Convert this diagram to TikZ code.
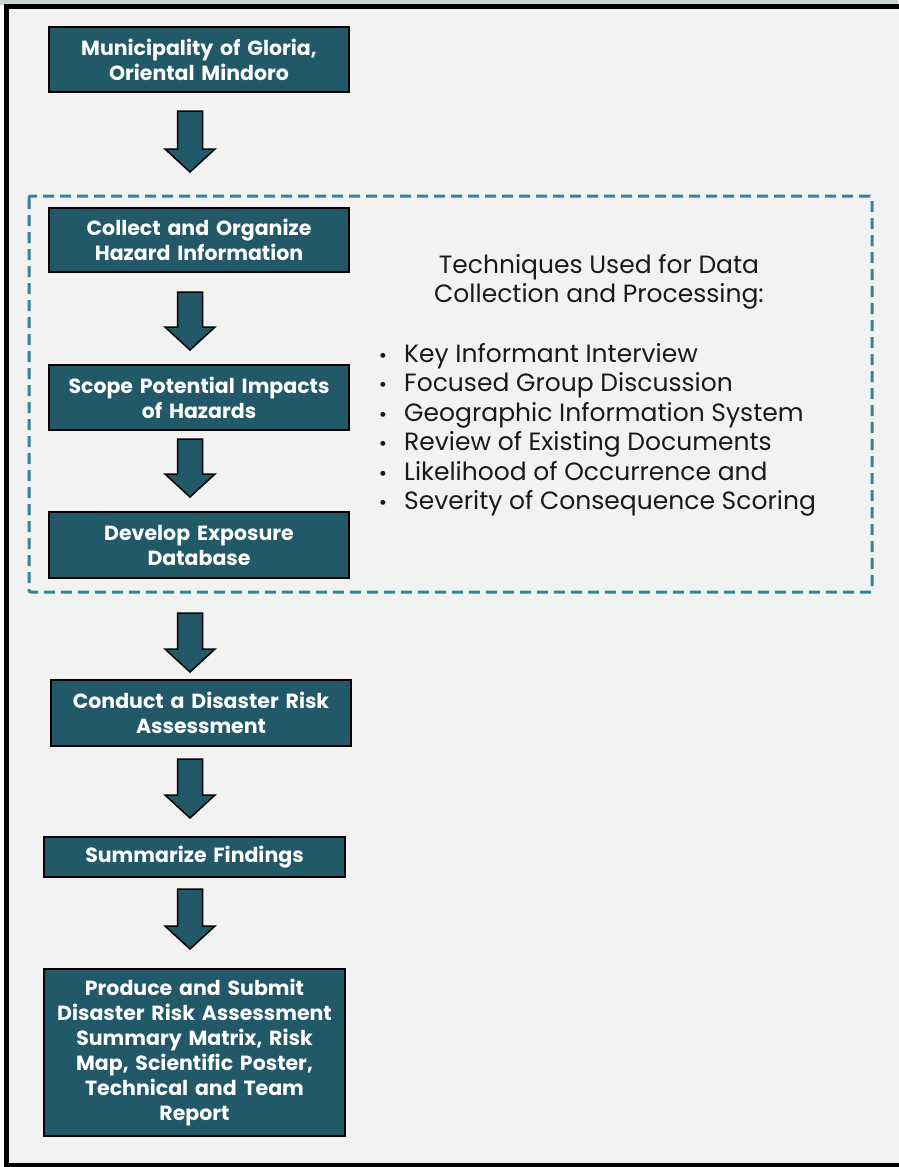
\documentclass[tikz,border=0pt]{standalone}
\usepackage{fontspec}
\setmainfont{Poppins}
\usetikzlibrary{calc}
\definecolor{boxfill}{HTML}{215968}
\definecolor{dashc}{HTML}{31859C}
\definecolor{bg}{HTML}{F2F2F2}
\definecolor{topstrip}{HTML}{C9D3D6}
\tikzset{
  stepbox/.style={draw=black, line width=2pt, fill=boxfill, text=white,
    font=\bfseries\fontsize{20.5}{25}\selectfont, align=center, inner sep=0pt,
    minimum width=300pt, text width=296pt},
  blockarr/.style={draw=black, line width=1.5pt, fill=boxfill, line join=miter},
  listtext/.style={anchor=base west, inner sep=0pt, font=\fontsize{25}{29}\selectfont, text=black!90},
  headtext/.style={anchor=base, inner sep=0pt, font=\fontsize{25}{29}\selectfont, text=black!90},
  bulletmark/.style={anchor=base, inner sep=0pt, font=\fontsize{20}{29}\selectfont, text=black!90},
  dashframe/.style={draw=dashc, line width=3pt, dash pattern=on 11pt off 6pt, rounded corners=2pt}
}
\newcommand\blockarrow[2]{%
  \draw[blockarr] ($(#1)+(-12.5,0)$) -- ($(#1)+(12.5,0)$) -- ($(#2)+(12.5,-23)$)
    -- ($(#2)+(25,-23)$) -- (#2) -- ($(#2)+(-25,-23)$) -- ($(#2)+(-12.5,-23)$) -- cycle;}
\begin{document}
\begin{tikzpicture}[x=1pt,y=-1pt]
\useasboundingbox (0,0) rectangle (898,1167);
\fill[topstrip] (0,0) rectangle (898,5);
\draw[line width=5pt, fill=bg] (6.5,6.5) rectangle (920,1165.5);

% dashed group frame
\draw[dashframe] (29,196) rectangle (872,592);

% boxes
\node[stepbox, minimum height=65pt] (b1) at (199,59.5) {Municipality of Gloria,\\Oriental Mindoro};
\node[stepbox, minimum height=64pt] (b2) at (199,240) {Collect and Organize\\Hazard Information};
\node[stepbox, minimum height=65pt] (b3) at (199,397.5) {Scope Potential Impacts\\of Hazards};
\node[stepbox, minimum height=66pt] (b4) at (199,545) {Develop Exposure\\Database};
\node[stepbox, minimum height=66pt] (b5) at (201,713) {Conduct a Disaster Risk\\Assessment};
\node[stepbox, minimum height=40pt, minimum width=301pt] (b6) at (194.5,857) {Summarize Findings};
\node[stepbox, minimum height=167pt, minimum width=301pt] (b7) at (194.5,1052.5) {Produce and Submit\\Disaster Risk Assessment\\Summary Matrix, Risk\\Map, Scientific Poster,\\Technical and Team\\Report};

% arrows
\coordinate (a1s) at (190,111);  \coordinate (a1e) at (190,172);
\coordinate (a2s) at (190,292);  \coordinate (a2e) at (190,350);
\coordinate (a3s) at (190,439);  \coordinate (a3e) at (190,497);
\coordinate (a4s) at (190,613);  \coordinate (a4e) at (190,672);
\coordinate (a5s) at (190,759);  \coordinate (a5e) at (190,818);
\coordinate (a6s) at (190,889);  \coordinate (a6e) at (190,949);
\blockarrow{a1s}{a1e}
\blockarrow{a2s}{a2e}
\blockarrow{a3s}{a3e}
\blockarrow{a4s}{a4e}
\blockarrow{a5s}{a5e}
\blockarrow{a6s}{a6e}

% techniques text
\node[headtext] (h1) at (599,273) {Techniques Used for Data};
\node[headtext] (h2) at (599,302) {Collection and Processing:};
\foreach \y/\t [count=\i] in {362/Key Informant Interview, 391/Focused Group Discussion,
  421/Geographic Information System, 450/Review of Existing Documents,
  480/Likelihood of Occurrence and, 509/Severity of Consequence Scoring}{
  \node[bulletmark] (m\i) at (383,\y) {\textbullet};
  \node[listtext] (t\i) at (404,\y) {\t};
}
\end{tikzpicture}
\end{document}
